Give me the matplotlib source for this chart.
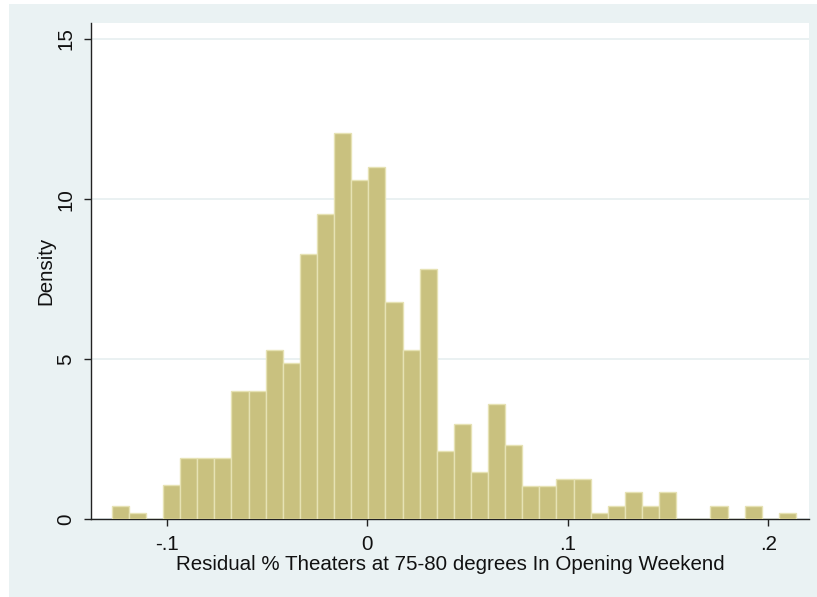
import numpy as np
import matplotlib
matplotlib.use("Agg")
import matplotlib.pyplot as plt
from matplotlib.patches import Rectangle

# Histogram of residuals: 40 equal-width bins, density scale
bin_start = -0.1274
bin_end = 0.2137
n_bins = 40
density = [
    0.42, 0.21, 0.00, 1.06, 1.91, 1.91, 1.91, 4.02, 4.02, 5.30,
    4.88, 8.29, 9.53, 12.07, 10.59, 11.01, 6.78, 5.29, 7.82, 2.12,
    2.97, 1.48, 3.59, 2.32, 1.05, 1.05, 1.27, 1.27, 0.21, 0.42,
    0.85, 0.42, 0.85, 0.00, 0.00, 0.42, 0.00, 0.42, 0.00, 0.21,
]
x_ticks = [-0.1, 0.0, 0.1, 0.2]
x_tick_labels = ["-.1", "0", ".1", ".2"]
y_ticks = [0, 5, 10, 15]
y_tick_labels = ["0", "5", "10", "15"]
x_label = "Residual % Theaters at 75-80 degrees In Opening Weekend"
y_label = "Density"

plt.rcParams["font.family"] = ["Liberation Sans", "DejaVu Sans"]

W, H = 817, 597
fig = plt.figure(figsize=(W / 100, H / 100), dpi=100, facecolor="white")

# light graph-region panel behind the plot
panel = Rectangle((9 / W, 0 / H), (W - 9) / W, (H - 4) / H,
                  transform=fig.transFigure, facecolor="#EAF2F3",
                  edgecolor="none", zorder=-10)
fig.add_artist(panel)

ax = fig.add_axes([90.7 / W, (H - 519.3) / H, (809 - 90.7) / W, (519.3 - 23) / H])
ax.set_zorder(1)
ax.set_facecolor("white")

edges = np.linspace(bin_start, bin_end, n_bins + 1)
centers = (edges[:-1] + edges[1:]) / 2
ax.hist(centers, bins=edges, weights=density, color="#C9C17F",
        edgecolor="#E6E2B4", linewidth=1.0, zorder=3)

ax.set_xlim(-0.1379, 0.2202)
ax.set_ylim(0, 15.5)

ax.set_xticks(x_ticks)
ax.set_xticklabels(x_tick_labels)
ax.set_yticks(y_ticks)
ax.set_yticklabels(y_tick_labels, rotation=90, va="center")

ax.grid(axis="y", color="#E6EFF0", linewidth=1.2, zorder=0)
ax.set_axisbelow(True)

for side in ("top", "right"):
    ax.spines[side].set_visible(False)
for side in ("left", "bottom"):
    ax.spines[side].set_color("#222222")
    ax.spines[side].set_linewidth(1.0)

ax.tick_params(axis="both", direction="out", length=5, width=1.0,
               color="#222222", labelsize=14.8, labelcolor="#111111", pad=6)

ax.set_xlabel(x_label, fontsize=14.8, color="#111111", labelpad=1)
ax.set_ylabel(y_label, fontsize=14.8, color="#111111", labelpad=1)

fig.savefig("out.png", dpi=100, facecolor=fig.get_facecolor())
